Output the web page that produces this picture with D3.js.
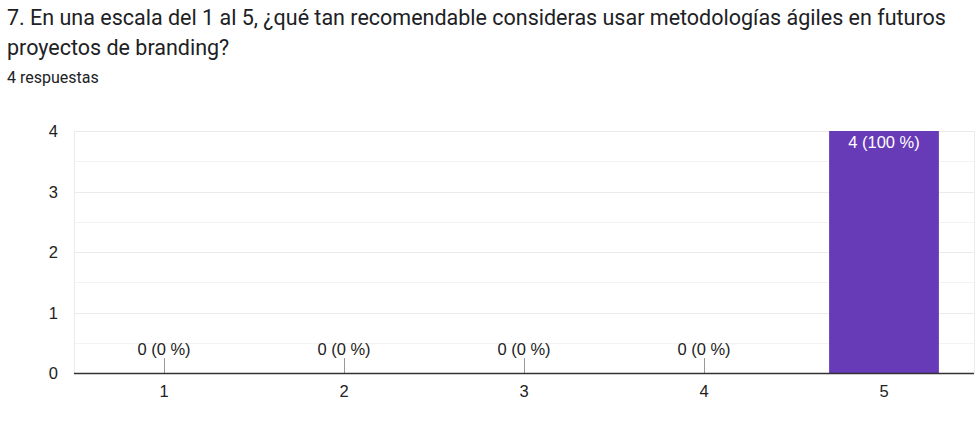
<!DOCTYPE html>
<html><head><meta charset="utf-8">
<script src="https://cdn.jsdelivr.net/npm/d3@7"></script>
<style>
html,body{margin:0;padding:0;background:#fff;}
svg{display:block;}
</style></head>
<body>
<svg id="c" width="978" height="421"></svg>
<script>
const titleLines = ["7. En una escala del 1 al 5, ¿qué tan recomendable consideras usar metodologías ágiles en futuros", "proyectos de branding?"];
const subtitle = "4 respuestas";
const categories = ["1","2","3","4","5"];
const counts = [0,0,0,0,4];
const total = 4;
const yTicks = [0,1,2,3,4];

const svg = d3.select("#c");
const m = {left:74, right:974, top:131, bottom:373};
const F = "Liberation Sans, Arial";
const FS = 16.5;

svg.selectAll("text.title").data(titleLines).enter().append("text")
  .attr("x",7).attr("y",(d,i)=>25+i*30)
  .attr("font-family","Roboto").attr("font-size",21.5).attr("fill","#202124")
  .text(d=>d);
svg.append("text").attr("x",7).attr("y",83)
  .attr("font-family","Roboto").attr("font-size",16).attr("fill","#202124").text(subtitle);

const x = d3.scaleBand().domain(categories).range([m.left,m.right]).paddingInner(0.39).paddingOuter(0.195);
const y = d3.scaleLinear().domain([0,4]).range([m.bottom,m.top]);

// gridlines (major + minor)
const grid = d3.range(0,4.01,0.5);
svg.append("g").selectAll("line").data(grid.filter(d=>d>0)).enter().append("line")
  .attr("x1",m.left).attr("x2",m.right).attr("y1",d=>Math.round(y(d))+0.5).attr("y2",d=>Math.round(y(d))+0.5)
  .attr("stroke",d=>Number.isInteger(d)?"#ebebeb":"#f3f3f3").attr("stroke-width",1);
// side borders
[m.left,m.right].forEach(xx=>svg.append("line").attr("x1",xx+0.5).attr("x2",xx+0.5).attr("y1",m.top).attr("y2",m.bottom).attr("stroke","#ebebeb"));

// y axis labels
const yAxis = d3.axisLeft(y).tickValues(yTicks).tickSize(0).tickPadding(0).tickFormat(d3.format("d"));
const gy = svg.append("g").attr("transform",`translate(${m.left-16},0)`).call(yAxis);
gy.select(".domain").remove();
gy.selectAll("text").attr("font-family",F).attr("font-size",FS).attr("fill","#222").attr("dy","0.35em");

// bars
const data = categories.map((c,i)=>({c, v:counts[i]}));
svg.append("g").selectAll("rect").data(data.filter(d=>d.v>0)).enter().append("rect")
  .attr("x",d=>x(d.c)).attr("width",x.bandwidth())
  .attr("y",d=>y(d.v)).attr("height",d=>y(0)-y(d.v))
  .attr("fill","#673ab7");

// labels
const lbl = d=>`${d.v} (${Math.round(d.v/total*100)} %)`;
svg.append("g").selectAll("text").data(data.filter(d=>d.v>0)).enter().append("text")
  .attr("x",d=>x(d.c)+x.bandwidth()/2).attr("y",d=>y(d.v)+17)
  .attr("text-anchor","middle").attr("font-family",F).attr("font-size",FS).attr("fill","#fff")
  .text(lbl);
const zeros = data.filter(d=>d.v===0);
svg.append("g").selectAll("line").data(zeros).enter().append("line")
  .attr("x1",d=>Math.round(x(d.c)+x.bandwidth()/2)+0.5).attr("x2",d=>Math.round(x(d.c)+x.bandwidth()/2)+0.5)
  .attr("y1",y(0)-15).attr("y2",y(0)).attr("stroke","#999").attr("stroke-width",1);
svg.append("g").selectAll("text").data(zeros).enter().append("text")
  .attr("x",d=>x(d.c)+x.bandwidth()/2).attr("y",y(0)-18)
  .attr("text-anchor","middle").attr("font-family",F).attr("font-size",FS).attr("fill","#222")
  .text(lbl);

// baseline
svg.append("line").attr("x1",m.left).attr("x2",m.right).attr("y1",y(0)+0.5).attr("y2",y(0)+0.5).attr("stroke","#333").attr("stroke-width",1.5);

// x axis labels
const xAxis = d3.axisBottom(x).tickSize(0).tickPadding(0);
const gx = svg.append("g").attr("transform",`translate(0,${m.bottom+24})`).call(xAxis);
gx.select(".domain").remove();
gx.selectAll("text").attr("font-family",F).attr("font-size",FS).attr("fill","#222").attr("dy",0);
</script>
</body></html>
